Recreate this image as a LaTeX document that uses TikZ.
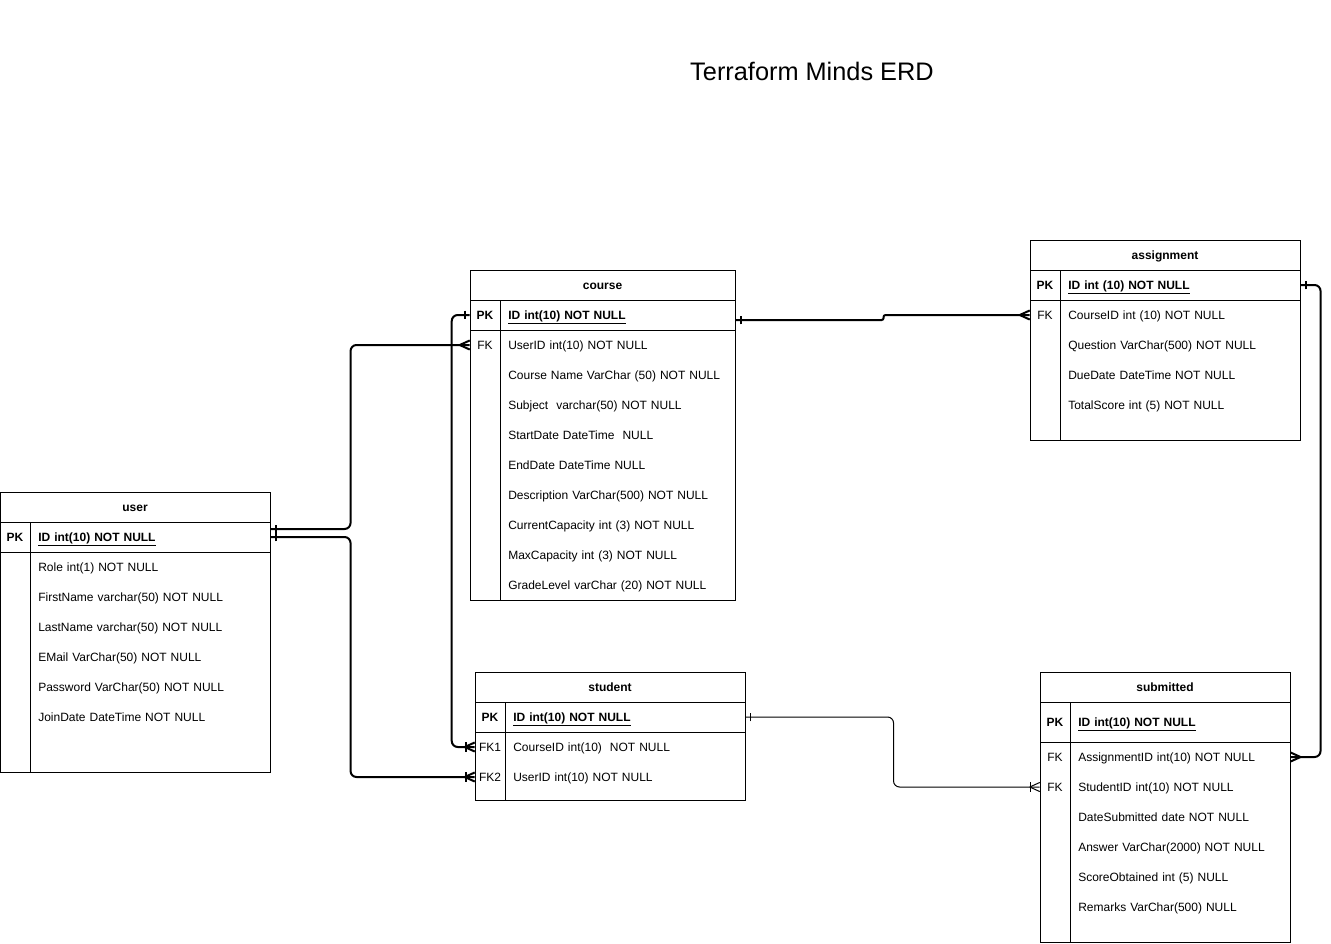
\documentclass[tikz,border=0pt]{standalone}
\usepackage{fontspec}
\setmainfont{Liberation Sans}
\usetikzlibrary{decorations, decorations.markings}
\tikzset{
    tbl/.style={draw=black, line width=0.75pt},
    hdr/.style={font=\bfseries\fontsize{9}{11}\selectfont, inner sep=0pt, text height=6.5pt, text depth=0pt},
    keycol/.style={minimum width=22.5pt, inner sep=0pt, text height=6.5pt, text depth=0pt,
        font=\fontsize{9}{11}\selectfont},
    pkcol/.style={keycol, font=\bfseries\fontsize{9}{11}\selectfont},
    field/.style={anchor=west, inner xsep=6pt, inner ysep=0pt, text width=#1, align=left,
        text height=6.5pt, text depth=0pt, font=\fontsize{9}{11}\selectfont},
    pkfield/.style={field=#1, font=\bfseries\fontsize{9}{11}\selectfont}
}
\tikzset{
    rel/.style={draw, line width=1.5pt, rounded corners=4.5pt},
    thinrel/.style={draw, line width=0.75pt, rounded corners=4.5pt},
    one/.style={
        postaction={decorate, decoration={markings,
            mark= at position 0 with
                {
                    \draw (3.75pt,-3.2pt) -- (3.75pt,3.2pt);
                }}}
    },
    many/.style={
        postaction={decorate, decoration={markings,
            mark= at position 1 with
                {
                    \draw (-7.5pt,0pt) -- (0pt,3.4pt) (-7.5pt,0pt) -- (0pt,-3.4pt);
                }}}
    },
    onemany/.style={
        postaction={decorate, decoration={markings,
            mark= at position 1 with
                {
                    \draw (-7.5pt,0pt) -- (0pt,3.4pt) (-7.5pt,0pt) -- (0pt,-3.4pt);
                    \draw (-6.75pt,-3.4pt) -- (-6.75pt,3.4pt);
                }}}
    }
}
\begin{document}
\begin{tikzpicture}[x=0.75pt, y=-0.75pt]
    \useasboundingbox (0,0) rectangle (1331,943);
    \node[font=\fontsize{19}{23}\selectfont] (title) at (812,71) {Terraform Minds ERD};

    % user
    \draw[tbl] (0,492) rectangle (270,772);
    \draw[tbl] (0,522) -- (270,522) (0,552) -- (270,552) (30,522) -- (30,772);
    \node[hdr] (user) at (135,507) {user};
    \node[pkcol] (user-k1) at (15,537) {PK};
    \node[pkfield=168pt] (user-id) at (30,537) {\underline{ID int(10) NOT NULL}};
    \foreach \t [count=\i] in {Role int(1) NOT NULL, FirstName varchar(50) NOT NULL,
        LastName varchar(50) NOT NULL, EMail VarChar(50) NOT NULL,
        Password VarChar(50) NOT NULL, JoinDate DateTime NOT NULL}
        \node[field=168pt] (user-f\i) at (30,537+30*\i) {\t};

    % course
    \draw[tbl] (470,270) rectangle (735,600);
    \draw[tbl] (470,300) -- (735,300) (470,330) -- (735,330) (500,300) -- (500,600);
    \node[hdr] (course) at (602.5,285) {course};
    \node[pkcol] (course-k1) at (485,315) {PK};
    \node[keycol] (course-k2) at (485,345) {FK};
    \node[pkfield=164.25pt] (course-id) at (500,315) {\underline{ID int(10) NOT NULL}};
    \foreach \t [count=\i] in {UserID int(10) NOT NULL, Course Name VarChar (50) NOT NULL,
        Subject\ \ varchar(50) NOT NULL, StartDate DateTime\ \ NULL, EndDate DateTime NULL,
        Description VarChar(500) NOT NULL, CurrentCapacity int (3) NOT NULL,
        MaxCapacity int (3) NOT NULL, GradeLevel varChar (20) NOT NULL}
        \node[field=164.25pt] (course-f\i) at (500,315+30*\i) {\t};

    % assignment
    \draw[tbl] (1030,240) rectangle (1300,440);
    \draw[tbl] (1030,270) -- (1300,270) (1030,300) -- (1300,300) (1060,270) -- (1060,440);
    \node[hdr] (assignment) at (1165,255) {assignment};
    \node[pkcol] (assignment-k1) at (1045,285) {PK};
    \node[keycol] (assignment-k2) at (1045,315) {FK};
    \node[pkfield=168pt] (assignment-id) at (1060,285) {\underline{ID int (10) NOT NULL}};
    \foreach \t [count=\i] in {CourseID int (10) NOT NULL, Question VarChar(500) NOT NULL,
        DueDate DateTime NOT NULL, TotalScore int (5) NOT NULL}
        \node[field=168pt] (assignment-f\i) at (1060,285+30*\i) {\t};

    % student
    \draw[tbl] (475,672) rectangle (745,800);
    \draw[tbl] (475,702) -- (745,702) (475,732) -- (745,732) (505,702) -- (505,800);
    \node[hdr] (student) at (610,687) {student};
    \node[pkcol] (student-k0) at (490,717) {PK};
    \node[keycol] (student-k1) at (490,747) {FK1};
    \node[keycol] (student-k2) at (490,777) {FK2};
    \node[pkfield=168pt] (student-id) at (505,717) {\underline{ID int(10) NOT NULL}};
    \node[field=168pt] (student-f1) at (505,747) {CourseID int(10)\ \ NOT NULL};
    \node[field=168pt] (student-f2) at (505,777) {UserID int(10) NOT NULL};

    % submitted
    \draw[tbl] (1040,672) rectangle (1290,942);
    \draw[tbl] (1040,702) -- (1290,702) (1040,742) -- (1290,742) (1070,702) -- (1070,942);
    \node[hdr] (submitted) at (1165,687) {submitted};
    \node[pkcol] (submitted-k0) at (1055,722) {PK};
    \node[keycol] (submitted-k1) at (1055,757) {FK};
    \node[keycol] (submitted-k2) at (1055,787) {FK};
    \node[pkfield=153pt] (submitted-id) at (1070,722) {\underline{ID int(10) NOT NULL}};
    \foreach \t [count=\i] in {AssignmentID int(10) NOT NULL, StudentID int(10) NOT NULL,
        DateSubmitted date NOT NULL, Answer VarChar(2000) NOT NULL,
        ScoreObtained int (5) NULL, Remarks VarChar(500) NULL}
        \node[field=153pt] (submitted-f\i) at (1070,727+30*\i) {\t};

    % relations
    \draw[rel, one, many] ([yshift=6pt]user-id.east) -- ++(80,0) |- (course-k2.west);
    \draw[rel, one, onemany] (user-id.east) -- ++(80,0) |- (student-k2.west);
    \draw[rel, one, onemany] (course-k1.west) -- ++(-18,0) |- (student-k1.west);
    \draw[rel, rounded corners=1.5pt, one, many] ([yshift=-3.75pt]course-id.east) -- ++(148,0)
        -- ++(0,-5) -- (assignment-k2.west);
    \draw[rel, one, many] (assignment-id.east) -- ++(20,0) |- (submitted-f1.east);
    \draw[thinrel, one, onemany] (student-id.east) -- ++(148,0) |- (submitted-k2.west);
\end{tikzpicture}
\end{document}
